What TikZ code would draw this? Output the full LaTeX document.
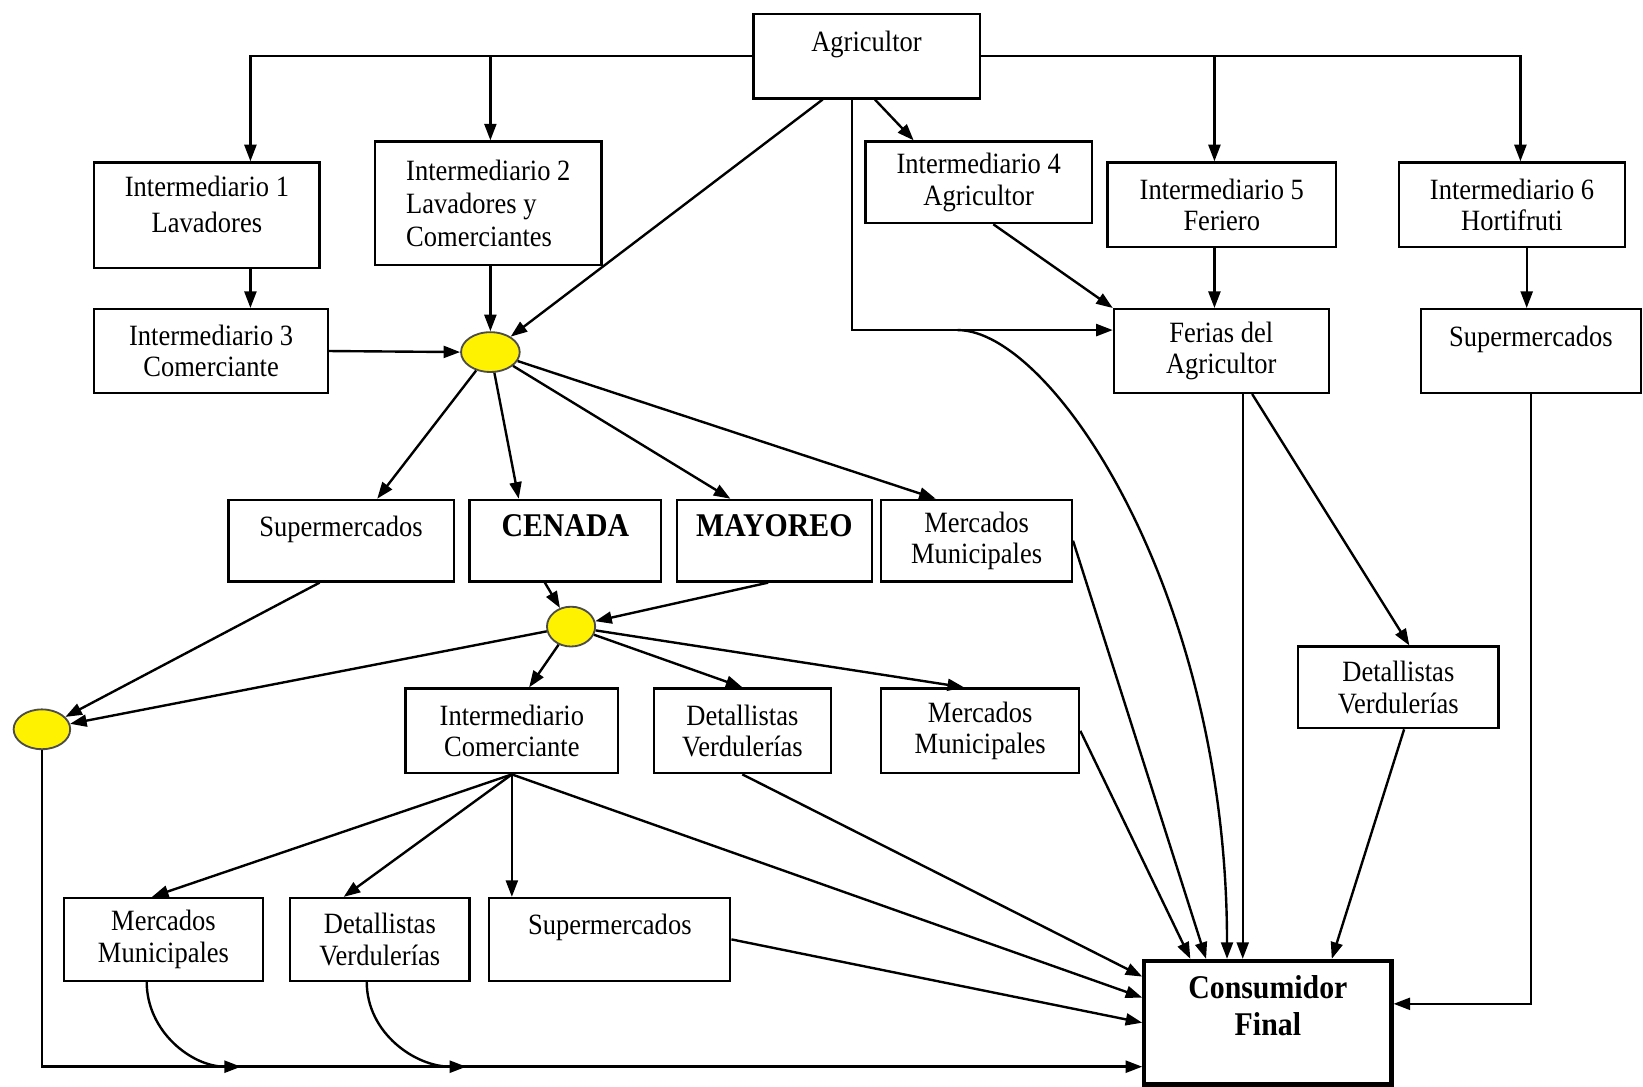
\documentclass[tikz,border=0pt]{standalone}
\usepackage{fontspec}
\setmainfont{Liberation Serif}[FakeStretch=0.9]
\usetikzlibrary{calc, arrows.meta, shapes.geometric}

\begin{document}
\begin{tikzpicture}[
        x=0.02cm, y=-0.02cm,
        box/.style={rectangle, draw=black, line width=1.2pt, align=center, inner sep=2pt, font=\fontsize{16}{17}\selectfont},
        sz/.style 2 args={minimum width=#1, minimum height=#2},
        toptext/.style={text depth=16pt},
        bigbold/.style={font=\fontsize{18}{20}\selectfont\bfseries},
        dot/.style={ellipse, draw=black!70, fill=yellow, line width=1pt, inner sep=0pt},
        final/.style={box, line width=2.2pt, bigbold, text depth=19pt},
        arrow/.style={-{Triangle[length=9pt, width=6.5pt]}, line width=1.3pt, draw=black}
    ]
        \useasboundingbox (0,0) rectangle (1568,1037);

        % --- PRODUCER & INTERMEDIARIES ---
        \node[box, toptext, sz={4.32cm}{1.62cm}] (agricultor) at (827,53.5) {Agricultor};
        \node[box, sz={4.30cm}{2.02cm}, text depth=12pt] (int1) at (197.5,205.5) {Intermediario 1\\[3pt]Lavadores};
        \node[box, sz={4.32cm}{2.36cm}, align=left] (int2) at (466,194) {Intermediario 2\\[1pt]Lavadores y\\[1pt]Comerciantes};
        \node[box, sz={4.46cm}{1.60cm}] (int3) at (201.5,335) {Intermediario 3\\Comerciante};
        \node[box, sz={4.32cm}{1.56cm}] (int4) at (934,174) {Intermediario 4\\Agricultor};
        \node[box, sz={4.36cm}{1.62cm}] (int5) at (1166,195.5) {Intermediario 5\\Feriero};
        \node[box, sz={4.32cm}{1.62cm}] (int6) at (1443,195.5) {Intermediario 6\\Hortifruti};
        \node[box, sz={4.10cm}{1.60cm}] (ferias) at (1165.5,335) {Ferias del\\Agricultor};
        \node[box, toptext, sz={4.20cm}{1.60cm}] (super6) at (1461,335) {Supermercados};

        % --- COLLECTION POINTS ---
        \node[dot, sz={1.12cm}{0.76cm}] (dot1) at (468,336) {};
        \node[dot, sz={0.92cm}{0.76cm}] (dot2) at (545,598) {};
        \node[dot, sz={1.08cm}{0.76cm}] (dot3) at (40,696) {};

        % --- WHOLESALE LEVEL ---
        \node[box, toptext, sz={4.30cm}{1.56cm}] (superA) at (325.5,516) {Supermercados};
        \node[box, toptext, bigbold, sz={3.66cm}{1.56cm}] (cenada) at (539.5,516) {CENADA};
        \node[box, toptext, bigbold, sz={3.72cm}{1.56cm}] (mayoreo) at (739,516) {MAYOREO};
        \node[box, sz={3.64cm}{1.56cm}] (mercA) at (932,516) {Mercados\\Municipales};

        \node[box, sz={4.06cm}{1.62cm}] (intcom) at (488.5,697.5) {Intermediario\\Comerciante};
        \node[box, sz={3.38cm}{1.62cm}] (detA) at (708.5,697.5) {Detallistas\\Verdulerías};
        \node[box, sz={3.78cm}{1.62cm}] (mercB) at (935.5,697.5) {Mercados\\Municipales};
        \node[box, sz={3.82cm}{1.56cm}] (detR) at (1334.5,656) {Detallistas\\Verdulerías};

        % --- RETAIL LEVEL ---
        \node[box, sz={3.80cm}{1.58cm}] (mercC) at (156,896.5) {Mercados\\Municipales};
        \node[box, sz={3.42cm}{1.58cm}] (detC) at (362.5,896.5) {Detallistas\\Verdulerías};
        \node[box, toptext, sz={4.60cm}{1.58cm}] (superC) at (582,896.5) {Supermercados};
        \node[final, sz={4.72cm}{2.36cm}] (consumidor) at (1210,976) {Consumidor\\Final};

        % --- CONNECTIONS FROM AGRICULTOR ---
        \draw[arrow] (agricultor.west) -| ([xshift=0.83cm]int1.north);
        \draw[arrow] ([xshift=0.04cm]int2.north |- agricultor.west) -- ([xshift=0.04cm]int2.north);
        \draw[arrow] (agricultor.east) -| ([xshift=0.16cm]int6.north);
        \draw[arrow] ([xshift=-0.14cm]int5.north |- agricultor.east) -- ([xshift=-0.14cm]int5.north);
        \draw[arrow] ([xshift=0.16cm]agricultor.south) -- ([xshift=0.94cm]int4.north west);
        \draw[arrow] ([xshift=-0.84cm]agricultor.south) -- (dot1);
        \draw[arrow] ([xshift=-0.28cm]agricultor.south) |- ([yshift=0.4cm]ferias.west);
        \coordinate (fork) at ($(ferias.west)+(-148,-20)$);
        \draw[arrow] (fork) .. controls +(90,0) and +(0,-350) .. ([xshift=-0.78cm]consumidor.north);

        % --- RIGHT BRANCH ---
        \draw[arrow] ([xshift=0.28cm]int4.south) -- (ferias.north west);
        \draw[arrow] ([xshift=-0.14cm]int5.south) -- ([xshift=-0.14cm]int5.south |- ferias.north);
        \draw[arrow] ([xshift=0.28cm]int6.south) -- ([xshift=0.28cm]int6.south |- super6.north);
        \draw[arrow] ([xshift=0.41cm]ferias.south) -- ([xshift=0.41cm]ferias.south |- consumidor.north);
        \draw[arrow] ([xshift=0.59cm]ferias.south) -- ([xshift=0.21cm]detR.north);
        \draw[arrow] ([xshift=0.11cm]detR.south) -- ([xshift=1.22cm]consumidor.north);
        \draw[arrow] (super6.south) |- ([yshift=0.36cm]consumidor.east);

        % --- LEFT BRANCH ---
        \draw[arrow] ([xshift=0.83cm]int1.south) -- ([xshift=0.83cm]int1.south |- int3.north);
        \draw[arrow] (int2.south -| dot1.north) -- (dot1.north);
        \draw[arrow] (int3.east) -- (dot1.west);

        \draw[arrow] (dot1) -- ([xshift=0.69cm]superA.north);
        \draw[arrow] (dot1) -- ([xshift=-0.89cm]cenada.north);
        \draw[arrow] (dot1) -- ([xshift=-0.84cm]mayoreo.north);
        \draw[arrow] (dot1) -- ([xshift=-0.78cm]mercA.north);

        \draw[arrow] ([xshift=-0.41cm]superA.south) -- (dot3);
        \draw[arrow] ([xshift=-0.39cm]cenada.south) -- (dot2);
        \draw[arrow] ([xshift=-0.12cm]mayoreo.south) -- (dot2);
        \draw[arrow] (dot2) -- (dot3);
        \draw[arrow] (dot2) -- ([xshift=0.33cm]intcom.north);
        \draw[arrow] (dot2) -- (detA.north);
        \draw[arrow] (dot2) -- ([xshift=-0.31cm]mercB.north);

        \draw[arrow] (mercA.east) -- ([xshift=-1.18cm]consumidor.north);
        \draw[arrow] (mercB.east) -- ([xshift=-1.48cm]consumidor.north);

        % --- INTERMEDIARIO COMERCIANTE ---
        \draw[arrow] (intcom.south) -- ([xshift=-0.22cm]mercC.north);
        \draw[arrow] (intcom.south) -- ([xshift=-0.69cm]detC.north);
        \draw[arrow] (intcom.south) -- (intcom.south |- superC.north);
        \draw[arrow] (intcom.south) -- ([yshift=0.48cm]consumidor.west);
        \draw[arrow] (detA.south) -- ([yshift=0.88cm]consumidor.west);
        \draw[arrow] (superC.east) -- (consumidor.west);

        % --- BOTTOM LINE ---
        \draw[arrow] (dot3.south) |- ([yshift=-0.84cm]consumidor.west);
        \coordinate (tip1) at (230,1018);
        \coordinate (tip2) at (445,1018);
        \draw[arrow] ([xshift=-0.32cm]mercC.south) to[out=-90, in=180] (tip1);
        \draw[arrow] ([xshift=-0.25cm]detC.south) to[out=-90, in=180] (tip2);

    \end{tikzpicture}
\end{document}
